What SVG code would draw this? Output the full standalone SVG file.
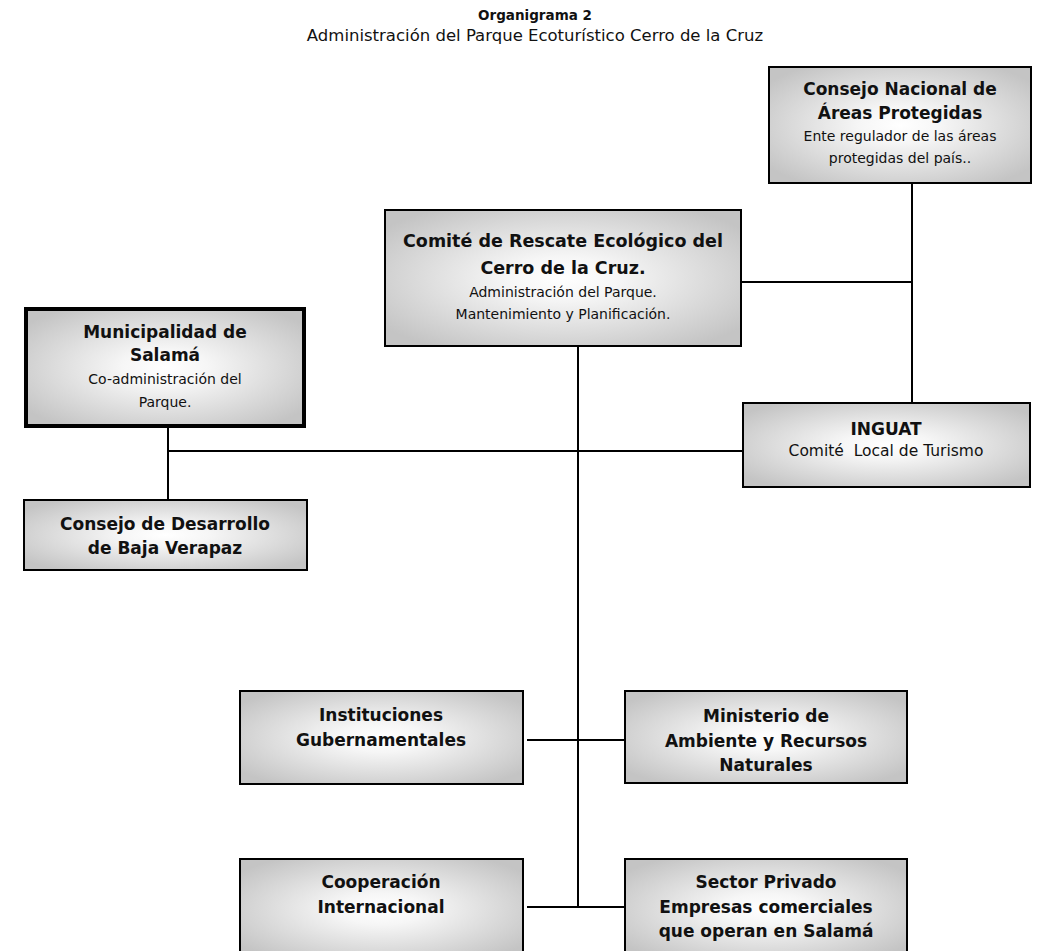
<svg xmlns="http://www.w3.org/2000/svg" width="1059" height="951" viewBox="0 0 1059 951">
<defs>
<radialGradient id="g" cx="50%" cy="50%" r="62%">
<stop offset="0" stop-color="#ffffff"/>
<stop offset="0.25" stop-color="#f6f6f6"/>
<stop offset="1" stop-color="#c4c4c4"/>
</radialGradient>
<style>
.box{fill:url(#g);stroke:#000;stroke-width:2}
.thick{stroke-width:4}
.t{font-family:"DejaVu Sans","Liberation Sans",sans-serif;text-anchor:middle;fill:#111}
.b{font-weight:bold;font-size:17px}
.bb{font-weight:bold;font-size:17.5px}
.s{font-size:14px}
.ln{stroke:#000;stroke-width:2;fill:none}
</style>
</defs>
<rect width="1059" height="951" fill="#fff"/>
<g id="title">
<text class="t" x="535" y="20" style="font-weight:bold;font-size:13.5px">Organigrama 2</text>
<text class="t" x="535" y="41" style="font-size:16.5px">Administración del Parque Ecoturístico Cerro de la Cruz</text>
</g>
<g id="connectors">
<line class="ln" x1="912" y1="183" x2="912" y2="403"/>
<line class="ln" x1="741" y1="282" x2="912" y2="282"/>
<line class="ln" x1="578" y1="346" x2="578" y2="907"/>
<line class="ln" x1="168" y1="427" x2="168" y2="500"/>
<line class="ln" x1="168" y1="451" x2="743" y2="451"/>
<line class="ln" x1="527" y1="740" x2="625" y2="740"/>
<line class="ln" x1="527" y1="907" x2="625" y2="907"/>
</g>
<g id="cnap">
<rect class="box" x="769" y="67" width="262" height="116"/>
<text class="t b" x="900" y="95">Consejo Nacional de</text>
<text class="t b" x="900" y="119">Áreas Protegidas</text>
<text class="t s" x="900" y="141">Ente regulador de las áreas</text>
<text class="t s" x="900" y="163">protegidas del país..</text>
</g>
<g id="comite">
<rect class="box" x="385" y="210" width="356" height="136"/>
<text class="t bb" x="563" y="247">Comité de Rescate Ecológico del</text>
<text class="t bb" x="563" y="274">Cerro de la Cruz.</text>
<text class="t s" x="563" y="297">Administración del Parque.</text>
<text class="t s" x="563" y="319">Mantenimiento y Planificación.</text>
</g>
<g id="municipalidad">
<rect class="box thick" x="26" y="309" width="278" height="117"/>
<text class="t b" x="165" y="338">Municipalidad de</text>
<text class="t b" x="165" y="361">Salamá</text>
<text class="t s" x="165" y="384">Co-administración del</text>
<text class="t s" x="165" y="407">Parque.</text>
</g>
<g id="inguat">
<rect class="box" x="743" y="403" width="287" height="84"/>
<text class="t b" x="886" y="435">INGUAT</text>
<text class="t" x="886" y="456" style="font-size:15.5px" xml:space="preserve">Comité  Local de Turismo</text>
</g>
<g id="consejo-desarrollo">
<rect class="box" x="24" y="500" width="283" height="70"/>
<text class="t b" x="165" y="530">Consejo de Desarrollo</text>
<text class="t b" x="165" y="554">de Baja Verapaz</text>
</g>
<g id="instituciones">
<rect class="box" x="240" y="691" width="283" height="93"/>
<text class="t b" x="381" y="721">Instituciones</text>
<text class="t b" x="381" y="746">Gubernamentales</text>
</g>
<g id="ministerio">
<rect class="box" x="625" y="691" width="282" height="92"/>
<text class="t b" x="766" y="722">Ministerio de</text>
<text class="t b" x="766" y="747">Ambiente y Recursos</text>
<text class="t b" x="766" y="771">Naturales</text>
</g>
<g id="cooperacion">
<rect class="box" x="240" y="859" width="283" height="100"/>
<text class="t b" x="381" y="888">Cooperación</text>
<text class="t b" x="381" y="913">Internacional</text>
</g>
<g id="sector-privado">
<rect class="box" x="625" y="859" width="282" height="100"/>
<text class="t b" x="766" y="888">Sector Privado</text>
<text class="t b" x="766" y="913">Empresas comerciales</text>
<text class="t b" x="766" y="937">que operan en Salamá</text>
</g>
</svg>
